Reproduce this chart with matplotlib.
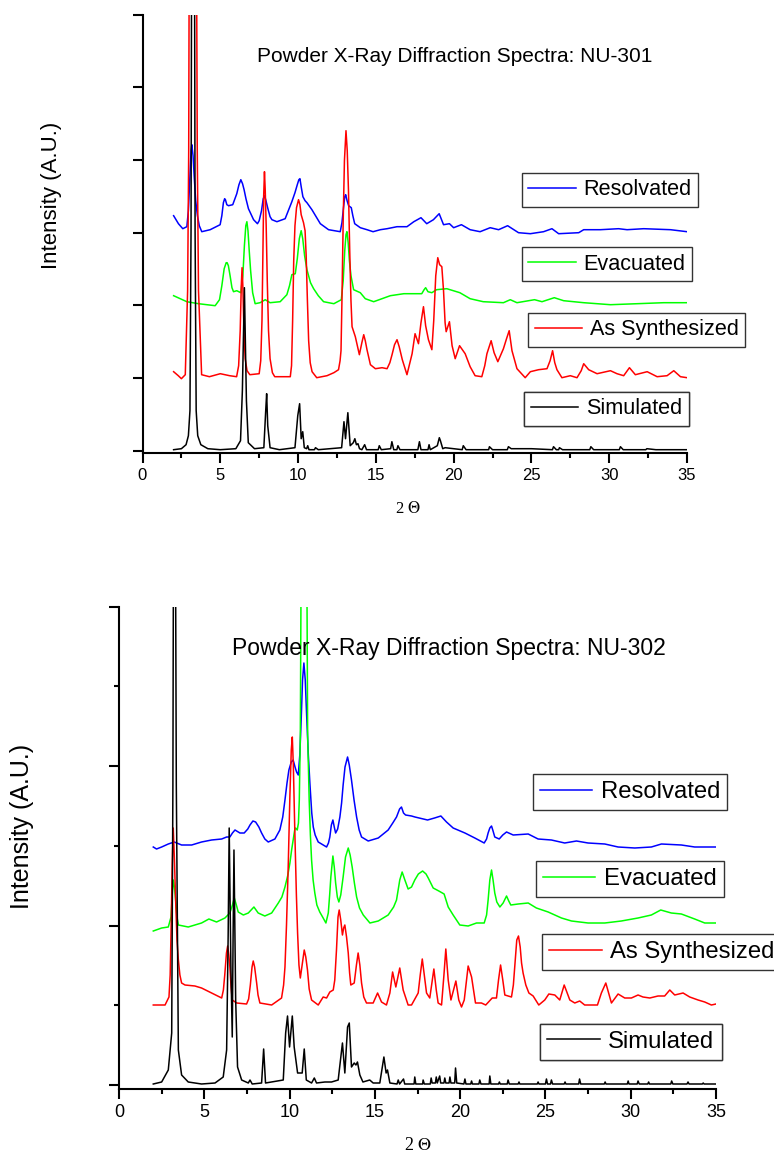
import matplotlib
matplotlib.use('Agg')
import matplotlib.pyplot as plt
from matplotlib.ticker import FixedLocator, MultipleLocator
import numpy as np

plt.rcParams['font.family'] = ['Liberation Sans', 'DejaVu Sans']
plt.rcParams['mathtext.fontset'] = 'stix'

# ========= Data (2 theta, intensity a.u.) ============
# NU-301
sim_301 = [(2.0, 1), (2.5, 2), (2.8, 6), (2.95, 15), (3.05, 40), (3.12, 220), (3.17, 600), (3.33, 600),
           (3.38, 220), (3.45, 40), (3.55, 15), (3.75, 6), (4.2, 2), (5.0, 1), (6.0, 2), (6.3, 10),
           (6.42, 60), (6.55, 163), (6.68, 50), (6.8, 8), (7.2, 2), (7.8, 3), (7.92, 40), (7.98, 57),
           (8.05, 25), (8.2, 3), (8.8, 1), (9.8, 3), (9.98, 35), (10.1, 47), (10.2, 12), (10.3, 19),
           (10.4, 3), (10.55, 2), (10.62, 5), (10.7, 1), (11.05, 1), (11.12, 3), (11.3, 1), (12.8, 3),
           (12.95, 29), (13.05, 12), (13.2, 38), (13.35, 5), (13.55, 8), (13.65, 12), (13.75, 6),
           (13.85, 7), (13.95, 2), (14.1, 1), (14.28, 6), (14.4, 1), (15.15, 1), (15.22, 5), (15.35, 1),
           (15.95, 2), (16.03, 9), (16.15, 1), (16.35, 1), (16.42, 5), (16.55, 1), (17.7, 1), (17.8, 9),
           (17.9, 1), (18.35, 1), (18.42, 6), (18.5, 1), (18.95, 5), (19.08, 13), (19.15, 10), (19.3, 2),
           (19.45, 3), (20.55, 1), (20.62, 5), (20.8, 1), (22.25, 1), (22.3, 4), (22.5, 1), (23.45, 1),
           (23.52, 4), (23.7, 2), (25.0, 2), (26.35, 1), (26.42, 4), (26.6, 1), (26.75, 1), (26.8, 3),
           (27.0, 1), (28.75, 1), (28.82, 4), (29.0, 1), (30.65, 1), (30.72, 4), (30.9, 1), (32.35, 1),
           (32.42, 2), (33.0, 1), (35.0, 1)]

syn_301 = [(2.0, 79), (2.3, 75), (2.5, 72), (2.75, 76), (2.9, 160), (2.97, 300), (3.02, 600), (3.45, 600),
           (3.52, 300), (3.6, 160), (3.8, 76), (4.3, 74), (5.0, 77), (5.6, 75), (6.05, 74), (6.18, 85),
           (6.28, 120), (6.35, 165), (6.4, 183), (6.45, 165), (6.52, 120), (6.6, 92), (6.72, 80), (6.9, 76),
           (7.5, 77), (7.6, 90), (7.68, 130), (7.74, 200), (7.79, 255), (7.84, 279), (7.89, 260), (7.95, 225),
           (8.02, 170), (8.1, 120), (8.2, 92), (8.35, 78), (8.5, 74), (9.5, 74), (9.58, 85), (9.65, 130),
           (9.72, 190), (9.8, 225), (9.9, 243), (10.03, 251), (10.12, 246), (10.2, 236), (10.35, 228),
           (10.45, 220), (10.52, 195), (10.6, 150), (10.68, 110), (10.78, 88), (10.9, 79), (11.2, 73),
           (11.86, 75), (12.3, 78), (12.6, 81), (12.7, 90), (12.76, 100), (12.82, 150), (12.9, 230),
           (12.98, 290), (13.08, 320), (13.16, 300), (13.24, 260), (13.32, 200), (13.4, 150), (13.47, 124),
           (13.68, 114), (13.94, 96), (14.1, 108), (14.22, 116), (14.32, 110), (14.43, 101), (14.65, 86),
           (14.97, 82), (15.4, 83), (15.72, 82), (15.9, 88), (16.04, 96), (16.2, 106), (16.36, 111),
           (16.5, 104), (16.7, 91), (17.0, 76), (17.33, 97), (17.52, 117), (17.74, 107), (17.9, 128),
           (18.06, 144), (18.2, 125), (18.38, 111), (18.6, 101), (18.72, 130), (18.85, 175), (18.98, 193),
           (19.1, 186), (19.24, 184), (19.35, 160), (19.45, 128), (19.52, 119), (19.73, 129), (19.9, 105),
           (20.1, 92), (20.38, 105), (20.74, 97), (21.06, 84), (21.38, 75), (21.81, 74), (22.0, 85),
           (22.14, 97), (22.41, 110), (22.6, 98), (22.84, 89), (23.2, 102), (23.4, 112), (23.57, 120),
           (23.75, 100), (24.07, 82), (24.6, 73), (24.93, 79), (25.46, 81), (26.0, 82), (26.2, 90),
           (26.36, 100), (26.5, 88), (26.64, 81), (26.96, 73), (27.5, 75), (27.93, 73), (28.2, 80),
           (28.36, 87), (28.68, 81), (29.22, 77), (30.08, 80), (30.5, 77), (30.93, 75), (31.3, 83),
           (31.68, 76), (32.44, 79), (33.08, 74), (33.72, 75), (34.15, 80), (34.58, 74), (35.0, 73)]

evac_301 = [(2.0, 155), (2.85, 149), (3.6, 147), (4.67, 145), (4.95, 151), (5.1, 165), (5.25, 182),
            (5.38, 188), (5.44, 188), (5.52, 185), (5.63, 175), (5.75, 163), (5.85, 159), (6.06, 160),
            (6.32, 158), (6.45, 175), (6.55, 205), (6.64, 225), (6.71, 229), (6.78, 220), (6.86, 200),
            (6.95, 180), (7.08, 158), (7.24, 147), (7.56, 148), (7.89, 151), (8.2, 148), (8.85, 149),
            (9.28, 156), (9.45, 165), (9.6, 176), (9.82, 177), (9.95, 192), (10.08, 212), (10.2, 220),
            (10.3, 212), (10.42, 195), (10.57, 181), (10.8, 168), (11.0, 162), (11.3, 155), (11.64, 149),
            (12.3, 147), (12.78, 151), (12.9, 170), (13.0, 200), (13.08, 216), (13.14, 219), (13.22, 208),
            (13.3, 190), (13.4, 175), (13.57, 161), (14.0, 158), (14.32, 152), (14.86, 149), (15.93, 155),
            (16.8, 157), (17.2, 157), (17.95, 157), (18.1, 161), (18.2, 163), (18.35, 159), (18.6, 158),
            (18.9, 161), (19.56, 162), (20.4, 158), (21.06, 152), (21.9, 149), (23.2, 148), (23.64, 151),
            (24.07, 148), (25.2, 151), (25.68, 149), (26.47, 153), (27.07, 150), (28.36, 148), (30.08, 146),
            (31.8, 147), (33.5, 148), (35.0, 148)]

resolv_301 = [(2.0, 235), (2.31, 227), (2.59, 222), (2.85, 224), (2.95, 240), (3.05, 275), (3.12, 300),
              (3.17, 306), (3.25, 295), (3.32, 275), (3.42, 250), (3.53, 235), (3.65, 225), (3.81, 219),
              (4.35, 221), (4.99, 226), (5.1, 235), (5.2, 248), (5.28, 252), (5.33, 251), (5.42, 246),
              (5.53, 245), (5.8, 246), (6.06, 257), (6.2, 266), (6.32, 271), (6.43, 267), (6.53, 261),
              (6.65, 252), (6.81, 242), (7.14, 231), (7.39, 227), (7.5, 230), (7.65, 240), (7.76, 252),
              (7.84, 255), (7.92, 251), (8.06, 242), (8.2, 234), (8.32, 231), (8.64, 229), (9.17, 232),
              (9.6, 249), (9.8, 258), (9.95, 266), (10.05, 271), (10.12, 272), (10.2, 264), (10.31, 254),
              (10.45, 250), (10.57, 248), (10.89, 241), (11.43, 227), (11.96, 221), (12.71, 219),
              (12.82, 228), (12.92, 243), (13.0, 254), (13.06, 256), (13.15, 250), (13.25, 245),
              (13.42, 243), (13.52, 235), (13.64, 227), (14.0, 223), (14.43, 221), (14.82, 219),
              (15.29, 221), (15.72, 222), (16.36, 224), (17.0, 224), (17.44, 229), (17.9, 233), (18.27, 227),
              (18.7, 231), (19.07, 237), (19.35, 226), (19.73, 227), (20.0, 223), (20.5, 226), (21.06, 221),
              (21.7, 219), (22.35, 223), (22.89, 221), (23.47, 225), (24.17, 218), (24.93, 217), (25.78, 219),
              (26.32, 222), (26.75, 217), (28.04, 218), (28.36, 221), (29.43, 221), (30.6, 222), (31.15, 221),
              (32.22, 222), (33.94, 221), (35.0, 219)]

# NU-302
sim_302 = [(2.01, 1), (2.5, 3), (2.89, 15), (3.09, 52), (3.16, 300), (3.2, 600), (3.3, 600), (3.36, 300),
           (3.48, 35), (3.67, 10), (4.06, 3), (4.84, 1), (5.63, 2), (6.11, 8), (6.31, 35), (6.4, 150),
           (6.46, 257), (6.56, 118), (6.64, 48), (6.69, 150), (6.74, 235), (6.84, 85), (6.95, 18),
           (7.19, 5), (7.58, 2), (7.68, 5), (7.81, 1), (8.36, 2), (8.48, 36), (8.59, 2), (9.63, 5),
           (9.77, 52), (9.88, 69), (10.0, 38), (10.16, 69), (10.27, 38), (10.47, 12), (10.74, 12),
           (10.86, 36), (10.98, 5), (11.29, 2), (11.45, 7), (11.58, 2), (12.07, 3), (12.46, 3), (12.85, 5),
           (13.1, 42), (13.24, 12), (13.4, 58), (13.5, 62), (13.63, 18), (13.79, 22), (13.89, 20),
           (13.98, 23), (14.12, 10), (14.3, 3), (14.7, 5), (14.9, 2), (15.29, 2), (15.53, 28), (15.66, 12),
           (15.74, 15), (15.88, 2), (16.3, 1), (16.37, 5), (16.45, 1), (16.68, 6), (16.75, 1), (17.3, 1),
           (17.34, 8), (17.4, 1), (17.8, 1), (17.83, 5), (17.9, 1), (18.25, 1), (18.3, 7), (18.36, 2),
           (18.55, 2), (18.6, 8), (18.66, 2), (18.8, 9), (18.86, 2), (19.05, 2), (19.1, 7), (19.16, 2),
           (19.35, 2), (19.4, 8), (19.46, 2), (19.68, 2), (19.73, 17), (19.8, 2), (20.22, 1), (20.28, 6),
           (20.34, 1), (20.62, 1), (20.67, 4), (20.72, 1), (21.1, 1), (21.15, 5), (21.22, 1), (21.7, 1),
           (21.74, 9), (21.8, 1), (22.25, 1), (22.3, 3), (22.35, 1), (22.76, 1), (22.81, 5), (22.88, 1),
           (23.4, 1), (23.45, 3), (23.5, 1), (24.52, 1), (24.57, 3), (24.62, 1), (25.0, 1), (25.06, 6),
           (25.12, 1), (25.3, 1), (25.35, 5), (25.42, 1), (26.1, 1), (26.15, 3), (26.2, 1), (26.95, 1),
           (27.0, 6), (27.07, 1), (28.45, 1), (28.5, 3), (28.55, 1), (29.8, 1), (29.85, 4), (29.9, 1),
           (30.38, 1), (30.43, 4), (30.5, 1), (31.0, 1), (31.05, 3), (31.1, 1), (32.35, 1), (32.4, 4),
           (32.47, 1), (33.3, 1), (33.36, 3), (33.42, 1), (34.2, 1), (34.25, 2), (34.3, 1), (35.0, 1)]

syn_302 = [(2.01, 80), (2.7, 80), (2.93, 88), (3.0, 110), (3.05, 152), (3.12, 220), (3.18, 257), (3.25, 225),
           (3.32, 185), (3.4, 145), (3.48, 125), (3.57, 110), (3.67, 102), (3.87, 100), (4.45, 99),
           (4.84, 97), (5.43, 92), (6.02, 87), (6.12, 95), (6.2, 110), (6.3, 132), (6.37, 139), (6.44, 130),
           (6.5, 118), (6.57, 98), (6.64, 85), (6.9, 82), (7.48, 81), (7.6, 86), (7.7, 100), (7.8, 118),
           (7.87, 124), (7.95, 118), (8.07, 102), (8.15, 90), (8.26, 82), (8.95, 80), (9.53, 87),
           (9.65, 100), (9.73, 118), (9.82, 160), (9.92, 218), (10.02, 290), (10.1, 335), (10.16, 348),
           (10.22, 320), (10.31, 252), (10.4, 190), (10.47, 152), (10.55, 120), (10.63, 107), (10.75, 122),
           (10.86, 135), (10.95, 128), (11.05, 115), (11.15, 96), (11.29, 85), (11.68, 80), (11.97, 88),
           (12.17, 87), (12.36, 93), (12.56, 95), (12.65, 105), (12.75, 135), (12.84, 168), (12.91, 175),
           (13.0, 165), (13.1, 150), (13.17, 157), (13.24, 160), (13.34, 148), (13.44, 132), (13.52, 112),
           (13.59, 100), (13.79, 102), (13.92, 120), (14.02, 132), (14.12, 120), (14.22, 102), (14.35, 88),
           (14.51, 82), (14.9, 82), (15.16, 92), (15.39, 83), (15.68, 80), (15.88, 92), (16.04, 113),
           (16.23, 98), (16.46, 117), (16.66, 95), (16.95, 80), (17.15, 80), (17.54, 92), (17.66, 110),
           (17.78, 126), (17.9, 110), (18.03, 92), (18.22, 87), (18.46, 116), (18.6, 95), (18.71, 82),
           (18.91, 80), (19.05, 110), (19.16, 136), (19.3, 105), (19.46, 85), (19.75, 104), (19.92, 85),
           (20.08, 78), (20.24, 85), (20.47, 119), (20.67, 108), (20.9, 82), (21.25, 82), (21.5, 80),
           (21.88, 87), (22.13, 87), (22.25, 105), (22.37, 120), (22.5, 105), (22.62, 90), (23.01, 88),
           (23.12, 100), (23.2, 118), (23.32, 145), (23.42, 149), (23.52, 138), (23.6, 122), (23.69, 112),
           (23.85, 100), (24.03, 92), (24.28, 89), (24.61, 80), (24.96, 85), (25.2, 91), (25.55, 90),
           (25.84, 85), (26.1, 100), (26.43, 85), (26.72, 82), (27.01, 84), (27.3, 80), (28.05, 80),
           (28.28, 92), (28.54, 102), (28.87, 82), (29.26, 91), (29.65, 87), (30.04, 87), (30.43, 90),
           (30.72, 88), (31.12, 87), (31.6, 89), (31.99, 89), (32.29, 95), (32.58, 90), (33.07, 92),
           (33.46, 88), (33.95, 85), (34.34, 83), (34.73, 80), (35.0, 81)]

evac_302 = [(2.01, 154), (2.5, 157), (2.89, 158), (3.05, 168), (3.12, 190), (3.18, 205), (3.25, 198),
            (3.32, 185), (3.4, 168), (3.48, 160), (4.06, 158), (4.84, 162), (5.27, 166), (5.72, 163),
            (6.21, 167), (6.5, 172), (6.65, 180), (6.76, 187), (6.88, 180), (6.99, 173), (7.29, 170),
            (7.58, 172), (7.91, 178), (8.16, 172), (8.55, 169), (8.95, 172), (9.34, 182), (9.55, 188),
            (9.73, 198), (9.9, 210), (10.02, 222), (10.12, 235), (10.21, 245), (10.3, 255), (10.35, 257),
            (10.45, 255), (10.52, 262), (10.57, 285), (10.63, 350), (10.7, 600), (10.99, 600), (11.06, 350),
            (11.15, 285), (11.22, 250), (11.29, 225), (11.38, 205), (11.48, 192), (11.6, 180), (11.77, 173),
            (11.97, 167), (12.13, 162), (12.27, 172), (12.35, 190), (12.42, 208), (12.54, 229), (12.62, 218),
            (12.7, 202), (12.8, 188), (12.89, 183), (13.0, 190), (13.14, 208), (13.28, 228), (13.44, 237),
            (13.55, 230), (13.67, 218), (13.8, 202), (13.93, 188), (14.1, 177), (14.32, 170), (14.71, 162),
            (15.2, 164), (15.78, 170), (16.1, 178), (16.27, 185), (16.46, 205), (16.6, 213), (16.76, 205),
            (16.95, 196), (17.15, 198), (17.34, 205), (17.55, 211), (17.8, 214), (18.0, 211), (18.13, 207),
            (18.42, 197), (18.75, 194), (19.06, 191), (19.3, 178), (19.59, 170), (19.98, 160), (20.47, 159),
            (20.96, 162), (21.41, 162), (21.55, 170), (21.64, 185), (21.74, 205), (21.84, 215), (21.93, 205),
            (22.03, 192), (22.15, 183), (22.33, 178), (22.52, 182), (22.72, 189), (22.85, 184), (22.97, 180),
            (23.4, 181), (23.99, 182), (24.47, 177), (25.16, 173), (25.94, 167), (26.53, 164), (27.5, 162),
            (28.48, 162), (29.45, 164), (30.43, 167), (31.21, 170), (31.76, 175), (32.38, 172), (32.97, 171),
            (33.75, 166), (34.34, 162), (35.0, 162)]

resolv_302 = [(2.01, 238), (2.2, 236), (2.5, 238), (2.89, 241), (3.24, 243), (3.67, 240), (4.26, 240),
              (4.84, 243), (5.43, 245), (6.02, 246), (6.31, 248), (6.5, 248), (6.65, 252), (6.8, 255),
              (7.09, 252), (7.34, 252), (7.55, 256), (7.68, 260), (7.85, 264), (8.01, 263), (8.2, 258),
              (8.36, 252), (8.55, 246), (8.75, 243), (9.14, 246), (9.43, 255), (9.6, 268), (9.73, 285),
              (9.85, 302), (9.96, 315), (10.1, 323), (10.21, 325), (10.32, 318), (10.41, 313), (10.51, 310),
              (10.6, 330), (10.68, 365), (10.76, 405), (10.84, 422), (10.92, 405), (11.0, 370), (11.1, 330),
              (11.19, 302), (11.3, 272), (11.39, 258), (11.5, 250), (11.68, 243), (12.17, 238), (12.28, 242),
              (12.36, 248), (12.45, 260), (12.54, 265), (12.62, 258), (12.7, 252), (12.82, 256), (12.95, 268),
              (13.05, 282), (13.14, 300), (13.25, 318), (13.4, 328), (13.5, 320), (13.63, 305), (13.78, 285),
              (13.93, 268), (14.08, 255), (14.22, 248), (14.61, 244), (15.2, 247), (15.78, 255), (16.05, 262),
              (16.27, 268), (16.45, 276), (16.56, 278), (16.68, 272), (16.8, 270), (17.15, 269), (17.35, 268),
              (18.09, 265), (18.5, 267), (18.87, 269), (19.2, 263), (19.59, 257), (20.28, 252), (20.86, 247),
              (21.41, 242), (21.55, 246), (21.64, 252), (21.74, 257), (21.84, 259), (21.93, 254), (22.03, 248),
              (22.29, 246), (22.5, 250), (22.72, 253), (23.11, 250), (23.99, 251), (24.57, 246), (25.35, 245),
              (26.13, 242), (26.82, 244), (27.5, 242), (28.48, 241), (29.26, 238), (30.24, 237), (31.21, 238),
              (31.8, 241), (32.97, 240), (33.75, 238), (35.0, 238)]

labels = ['Resolvated', 'Evacuated', 'As Synthesized', 'Simulated']
colors = ['#0000ff', '#00ff00', '#ff0000', '#000000']

W, H = 774, 1161

# ========= Plot configuration ============
fig = plt.figure(figsize=(W / 100, H / 100), dpi=100)


def make_panel(rect, data, ylim, ymajor, yminor, title, title_xy, title_fs,
               keys, key_fs, tick_fs, ylab_xy, ylab_fs, xlab_xy, xlab_fs):
    ax = fig.add_axes(rect)
    lines = []
    for d, c in zip(data, colors):
        arr = np.array(d)
        ln, = ax.plot(arr[:, 0], arr[:, 1], color=c, lw=1.1)
        lines.append(ln)
    ax.set_xlim(0, 35)
    ax.set_ylim(*ylim)
    ax.spines['top'].set_visible(False)
    ax.spines['right'].set_visible(False)
    for s in ['left', 'bottom']:
        ax.spines[s].set_linewidth(1.5)
    ax.xaxis.set_major_locator(MultipleLocator(5))
    ax.xaxis.set_minor_locator(MultipleLocator(2.5))
    ax.yaxis.set_major_locator(FixedLocator(ymajor))
    ax.yaxis.set_minor_locator(FixedLocator(yminor))
    ax.set_yticklabels([])
    ax.tick_params(axis='both', which='major', direction='out', length=7, width=1.5,
                   labelsize=tick_fs, pad=4)
    ax.tick_params(axis='both', which='minor', direction='out', length=3.5, width=1.5)

    # one framed key per trace, sitting next to its curve
    for ln, lab, (lx, ly) in zip(lines, labels, keys):
        leg = ax.legend([ln], [lab], loc='center left', bbox_to_anchor=(lx / W, 1 - ly / H),
                        bbox_transform=fig.transFigure, fontsize=key_fs, fancybox=False,
                        edgecolor='#333333', framealpha=1, borderpad=0.3, borderaxespad=0,
                        handlelength=2.2, handletextpad=0.35)
        leg.get_frame().set_linewidth(1.0)
        ax.add_artist(leg)

    fig.text(title_xy[0] / W, 1 - title_xy[1] / H, title, fontsize=title_fs,
             ha='center', va='baseline')
    fig.text(ylab_xy[0] / W, 1 - ylab_xy[1] / H, 'Intensity (A.U.)', fontsize=ylab_fs,
             rotation=90, ha='center', va='center')
    fig.text(xlab_xy[0] / W, 1 - xlab_xy[1] / H, '2 $\\mathit{\\Theta}$', fontsize=xlab_fs,
             family='Liberation Serif', ha='center', va='center')
    return ax


top_major = np.linspace(0, 436, 7)
make_panel([142.5 / W, 1 - 453.2 / H, (687 - 142.5) / W, 438.5 / H],
           [resolv_301, evac_301, syn_301, sim_301], (-2.5, 436), top_major, [],
           'Powder X-Ray Diffraction Spectra: NU-301', (455, 62.3), 15,
           [(521.7, 189.7), (521.7, 264), (528.3, 330), (524.3, 409)], 15.6, 12,
           (52, 195), 16, (408, 509), 12)

bot_major = np.linspace(0, 478.3, 4)
bot_minor = (bot_major[:-1] + bot_major[1:]) / 2
make_panel([119 / W, 1 - 1089 / H, (716 - 119) / W, (1089 - 606.7) / H],
           [resolv_302, evac_302, syn_302, sim_302], (-4, 478.3), bot_major, bot_minor,
           'Powder X-Ray Diffraction Spectra: NU-302', (449, 655), 16.5,
           [(532.7, 792.2), (535.7, 879.2), (542, 952), (540.3, 1041.7)], 17.2, 13,
           (22, 826), 18, (418, 1145), 13)

fig.savefig('out.png', dpi=100)
